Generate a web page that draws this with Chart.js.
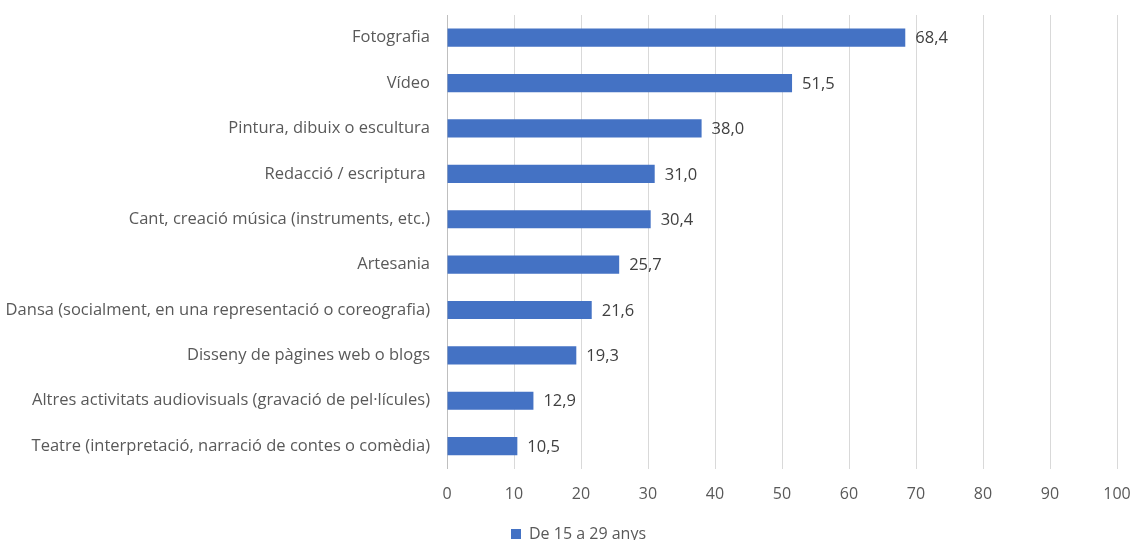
<!DOCTYPE html>
<html>
<head>
<meta charset="utf-8">
<script src="https://cdn.jsdelivr.net/npm/chart.js@4"></script>
<style>
  html, body { margin: 0; padding: 0; background: #fff; overflow: hidden; }
  #wrap { position: relative; width: 1134px; height: 552px; }
</style>
</head>
<body>
<div id="wrap"><canvas id="activitiesChart"></canvas></div>
<script>
const categories = [
  'Fotografia',
  'Vídeo',
  'Pintura, dibuix o escultura',
  'Redacció / escriptura ',
  'Cant, creació música (instruments, etc.)',
  'Artesania',
  'Dansa (socialment, en una representació o coreografia)',
  'Disseny de pàgines web o blogs',
  'Altres activitats audiovisuals (gravació de pel·lícules)',
  'Teatre (interpretació, narració de contes o comèdia)',
];

const youthValues = [68.4, 51.5, 38.0, 31.0, 30.4, 25.7, 21.6, 19.3, 12.9, 10.5];

const seriesLabel = 'De 15 a 29 anys';

const decimalFormatter = new Intl.NumberFormat('ca-ES', {
  minimumFractionDigits: 1,
  maximumFractionDigits: 1,
});

const fontFamily = '"Open Sans", sans-serif';

// writes the value at the end of each bar
const valueLabels = {
  id: 'valueLabels',
  afterDatasetsDraw(chart) {
    const { ctx } = chart;
    const meta = chart.getDatasetMeta(0);
    ctx.save();
    ctx.font = `16.5px ${fontFamily}`;
    ctx.fillStyle = '#404040';
    ctx.textAlign = 'left';
    ctx.textBaseline = 'middle';
    meta.data.forEach((bar, index) => {
      ctx.fillText(decimalFormatter.format(youthValues[index]), bar.x + 10, bar.y + 1);
    });
    ctx.restore();
  },
};

// nudges the legend a bit to the right, like the original
const legendShift = {
  id: 'legendShift',
  afterLayout(chart) {
    if (chart.legend) {
      chart.legend.left += 40;
    }
  },
};

document.addEventListener('DOMContentLoaded', () => {
  const ctx = document.getElementById('activitiesChart');

  new Chart(ctx, {
    type: 'bar',
    data: {
      labels: categories,
      datasets: [
        {
          label: seriesLabel,
          data: youthValues,
          backgroundColor: '#4472C4',
          borderWidth: 0,
          categoryPercentage: 0.4,
          barPercentage: 1,
        },
      ],
    },
    options: {
      indexAxis: 'y',
      responsive: true,
      maintainAspectRatio: false,
      animation: false,
      layout: {
        padding: { top: 15, right: 17, left: 0, bottom: 0 },
      },
      scales: {
        x: {
          min: 0,
          max: 100,
          afterFit: (scale) => {
            scale.paddingLeft = 0;
            scale.paddingRight = 0;
          },
          ticks: {
            stepSize: 10,
            color: '#595959',
            padding: 16,
            font: { family: fontFamily, size: 16 },
          },
          grid: {
            color: '#D9D9D9',
            drawTicks: false,
          },
          border: { display: false },
        },
        y: {
          afterFit: (scale) => {
            scale.width = 447;
            scale.paddingTop = 0;
            scale.paddingBottom = 0;
          },
          ticks: {
            color: '#595959',
            padding: 17,
            font: { family: fontFamily, size: 16.5 },
          },
          grid: {
            display: false,
            drawTicks: false,
          },
          border: { display: true, color: '#BFBFBF', width: 1 },
        },
      },
      plugins: {
        legend: {
          position: 'bottom',
          labels: {
            color: '#595959',
            boxWidth: 10,
            boxHeight: 10,
            padding: 6,
            font: { family: fontFamily, size: 16 },
          },
        },
        tooltip: { enabled: false },
      },
    },
    plugins: [valueLabels, legendShift],
  });
});
</script>
</body>
</html>
